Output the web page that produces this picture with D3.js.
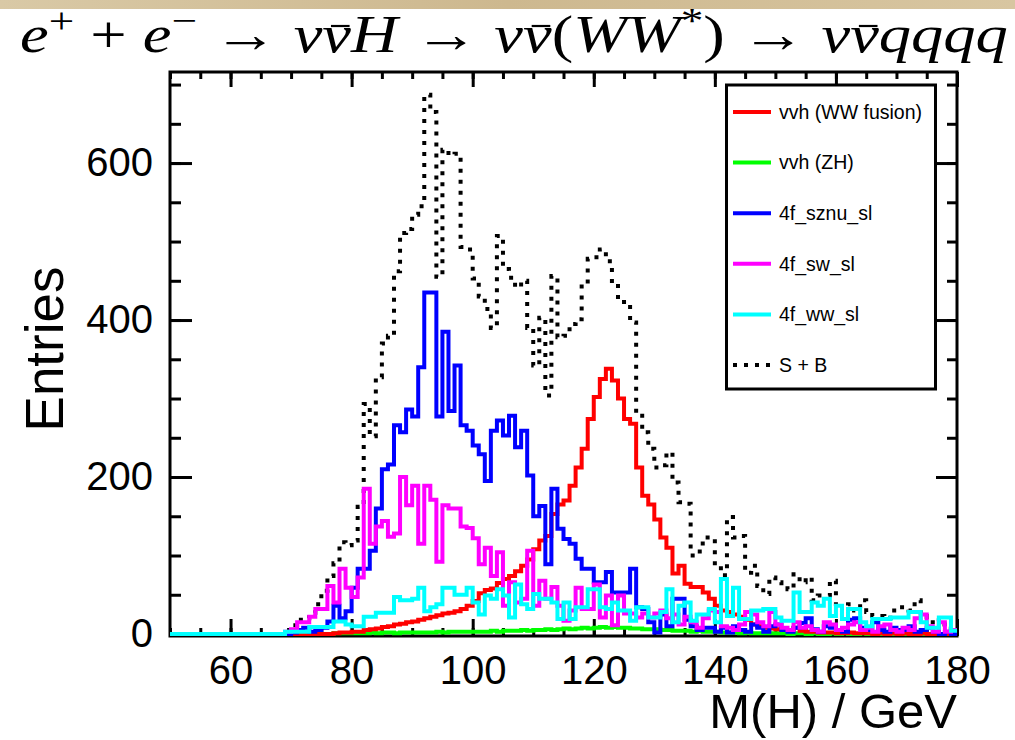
<!DOCTYPE html>
<html>
<head>
<meta charset="utf-8">
<script src="https://cdn.jsdelivr.net/npm/d3@7"></script>
<style>
  body { margin: 0; background: #fff; }
  svg { display: block; }
</style>
</head>
<body>
<div id="chart"></div>
<script>
// 1 GeV bins, first bin starts at 50 GeV (130 bins up to 180)
const binStart = 50;
const binEnd = 180;

const wwFusion = [
  0,0,0,0,0,0,0,0,0,0,
  0,0,0,0,0,0,0,0,0,0,
  0,0,0,0,0,0,0,1,2,2,
  3,3,5,6,7,9,10,12,13,15,
  16,18,20,22,24,26,27,29,32,36,
  42,52,56,58,65,70,74,80,87,95,
  108,119,125,153,165,170,189,212,236,274,
  302,325,338,323,300,274,268,212,176,165,
  146,123,110,77,87,64,60,60,53,45,
  36,30,28,25,22,18,12,10,8,7,
  6,5,5,8,4,3,3,2,2,2,
  1,1,2,1,1,1,0,1,0,1,
  0,1,0,0,1,0,0,0,0,0
];
const zh = [
  0,0,0,0,0,0,0,0,0,0,
  0,0,0,0,0,0,0,0,0,0,
  0,0,0,0,0,0,0,1,1,1,
  1,1,1,2,1,2,2,1,2,2,
  2,2,2,2,3,2,3,3,3,3,
  3,3,3,4,3,4,4,4,5,4,
  5,5,6,5,6,7,6,7,8,7,
  8,9,8,9,8,8,7,7,6,6,
  6,5,5,4,4,4,3,4,3,3,
  3,2,2,2,1,2,1,1,1,1,
  1,1,0,1,1,0,1,0,0,1,
  0,1,0,0,1,0,0,0,1,0,
  0,0,1,0,0,0,0,0,0,0
];
const sznu = [
  0,0,0,0,0,0,0,0,0,0,
  0,0,0,0,0,0,0,0,0,0,
  2,5,8,3,5,8,16,36,20,29,
  59,83,83,106,160,210,216,266,257,286,
  277,340,435,435,277,385,284,342,266,259,
  240,229,195,259,272,253,278,238,259,202,
  150,163,89,185,134,121,115,96,83,83,
  66,66,79,53,53,53,83,34,32,15,
  2,25,10,45,45,18,10,5,8,8,
  3,8,2,10,5,3,12,8,3,10,
  12,5,3,8,14,20,6,3,10,8,
  5,3,18,20,8,5,15,5,3,8,
  5,5,10,3,5,8,3,0,3,0
];
const sw = [
  0,0,0,0,0,0,0,0,0,0,
  0,0,0,0,0,0,0,0,0,3,
  6,15,15,22,32,32,61,40,83,59,
  47,72,185,115,137,144,124,128,200,164,
  189,115,189,171,92,164,160,160,137,135,
  122,89,110,74,104,36,66,40,45,106,
  36,68,45,60,36,17,30,59,32,32,
  63,21,49,11,49,26,26,21,26,21,
  26,30,20,25,12,22,15,8,20,30,
  28,10,8,5,12,28,25,15,10,28,
  12,8,5,15,8,10,5,3,15,12,
  5,8,12,15,5,8,3,10,12,5,
  3,8,5,20,25,10,3,15,3,5
];
const ww = [
  0,0,0,0,0,0,0,0,0,0,
  0,0,0,0,0,0,0,0,0,3,
  3,3,3,9,9,9,9,16,16,12,
  10,10,22,22,27,27,27,47,43,43,
  45,59,29,34,38,59,59,50,50,59,
  40,25,49,45,57,49,21,63,38,32,
  51,45,45,40,19,40,19,34,34,57,
  57,34,32,40,30,30,17,34,34,21,
  21,28,57,15,36,40,17,25,25,32,
  15,70,23,59,19,19,30,30,32,32,
  21,17,17,53,28,28,40,36,45,23,
  36,19,32,32,15,10,19,19,19,21,
  21,21,28,28,15,8,8,21,21,4
];
const sPlusB = [
  0,0,0,0,0,0,0,0,0,0,
  0,0,0,0,0,0,0,0,0,5,
  11,18,20,27,38,55,74,90,117,113,
  119,162,293,252,327,370,380,462,511,516,
  534,545,687,665,455,617,610,612,493,490,
  453,430,414,390,507,465,454,442,450,390,
  342,403,304,456,378,380,395,401,446,478,
  480,490,475,446,423,423,397,278,257,236,
  212,215,231,193,168,166,100,105,123,123,
  87,75,149,123,125,78,87,61,51,72,
  66,62,57,76,66,72,43,49,49,68,
  32,34,38,30,43,28,23,23,20,30,
  34,34,30,43,23,15,20,12,6,8
];

const legendLabels = ["vvh (WW fusion)", "vvh (ZH)", "4f_sznu_sl", "4f_sw_sl", "4f_ww_sl", "S + B"];
const xTickLabels = [60, 80, 100, 120, 140, 160, 180];
const yTickLabels = [0, 200, 400, 600];

const width = 1015;
const height = 740;
const sans = "'Liberation Sans', Arial, sans-serif";

const svg = d3.select("#chart").append("svg")
    .attr("width", width)
    .attr("height", height);

// parchment strip along the top edge
const grad = svg.append("defs").append("linearGradient")
    .attr("id", "parchment")
    .attr("x1", "0").attr("x2", "1").attr("y1", "0").attr("y2", "0");
grad.append("stop").attr("offset", "0").attr("stop-color", "#d9c9a6");
grad.append("stop").attr("offset", "0.5").attr("stop-color", "#cdb88f");
grad.append("stop").attr("offset", "1").attr("stop-color", "#d8c6a1");
svg.append("rect")
    .attr("x", 0).attr("y", 0)
    .attr("width", width).attr("height", 9)
    .attr("fill", "url(#parchment)");

const x = d3.scaleLinear().domain([binStart, binEnd]).range([170, 957]);
const y = d3.scaleLinear().domain([0, 716]).range([634, 72]);

// frame
svg.append("rect")
    .attr("x", 170).attr("y", 72)
    .attr("width", 787).attr("height", 564)
    .attr("fill", "none")
    .attr("stroke", "#000")
    .attr("stroke-width", 3);

function styleAxis(g) {
    g.select(".domain").remove();
    g.selectAll(".tick line").attr("stroke", "#000").attr("stroke-width", 3);
    g.selectAll(".tick text")
        .attr("fill", "#000")
        .style("font-family", sans)
        .style("font-size", "40px");
}

const minorX = d3.range(50, 181, 5);
const minorY = d3.range(0, 716, 50);

svg.append("g").attr("transform", "translate(0,636)")
    .call(d3.axisBottom(x).tickValues(minorX).tickSize(-8).tickFormat(""))
    .call(styleAxis);
svg.append("g").attr("transform", "translate(0,636)")
    .call(d3.axisBottom(x).tickValues(xTickLabels).tickSize(-17).tickPadding(20))
    .call(styleAxis);
svg.append("g").attr("transform", "translate(0,72)")
    .call(d3.axisTop(x).tickValues(minorX).tickSize(-7).tickFormat(""))
    .call(styleAxis);
svg.append("g").attr("transform", "translate(0,72)")
    .call(d3.axisTop(x).tickValues(xTickLabels).tickSize(-15).tickFormat(""))
    .call(styleAxis);

svg.append("g").attr("transform", "translate(170,0)")
    .call(d3.axisLeft(y).tickValues(minorY).tickSize(-11).tickFormat(""))
    .call(styleAxis);
svg.append("g").attr("transform", "translate(170,0)")
    .call(d3.axisLeft(y).tickValues(yTickLabels).tickSize(-22).tickPadding(17))
    .call(styleAxis);
svg.append("g").attr("transform", "translate(957,0)")
    .call(d3.axisRight(y).tickValues(minorY).tickSize(-10).tickFormat(""))
    .call(styleAxis);
svg.append("g").attr("transform", "translate(957,0)")
    .call(d3.axisRight(y).tickValues(yTickLabels).tickSize(-21).tickFormat(""))
    .call(styleAxis);

// histograms, S+B first so the coloured lines sit on top of it
const series = [
    {values: sPlusB, color: "#000", dash: "4,7"},
    {values: zh, color: "#00ff00"},
    {values: wwFusion, color: "#ff0000"},
    {values: sznu, color: "#0000ff"},
    {values: sw, color: "#ff00ff"},
    {values: ww, color: "#00ffff"}
];

const step = d3.line()
    .x(d => x(d[0]))
    .y(d => y(d[1]))
    .curve(d3.curveStepAfter);

series.forEach(s => {
    const pts = s.values.map((v, i) => [binStart + i, v]);
    pts.push([binEnd, s.values[s.values.length - 1]]);
    svg.append("path")
        .datum(pts)
        .attr("d", step)
        .attr("fill", "none")
        .attr("stroke", s.color)
        .attr("stroke-width", 4)
        .attr("stroke-dasharray", s.dash || null);
});

// legend
const legendColors = ["#ff0000", "#00ff00", "#0000ff", "#ff00ff", "#00ffff", "#000"];
const legend = svg.append("g");
legend.append("rect")
    .attr("x", 726.5).attr("y", 85)
    .attr("width", 209).attr("height", 304)
    .attr("fill", "#fff")
    .attr("stroke", "#000")
    .attr("stroke-width", 3);

const rows = legend.selectAll("g.row")
    .data(legendLabels)
    .join("g")
    .attr("class", "row")
    .attr("transform", (d, i) => `translate(0,${112 + i * 50.6})`);

rows.append("line")
    .attr("x1", 733).attr("x2", 771)
    .attr("stroke", (d, i) => legendColors[i])
    .attr("stroke-width", 4)
    .attr("stroke-dasharray", (d, i) => i === 5 ? "4,7" : null);

rows.append("text")
    .attr("x", 779)
    .attr("dy", "0.35em")
    .style("font-family", sans)
    .style("font-size", "19.5px")
    .text(d => d);

// axis titles
svg.append("text")
    .attr("transform", "translate(63,349) rotate(-90)")
    .attr("text-anchor", "middle")
    .style("font-family", sans)
    .style("font-size", "53px")
    .text("Entries");

svg.append("text")
    .attr("x", 957).attr("y", 728)
    .attr("text-anchor", "end")
    .style("font-family", sans)
    .style("font-size", "49px")
    .text("M(H) / GeV");

// title: e+ + e- -> nu nubar H -> nu nubar (WW*) -> nu nubar qqqq
const titleParts = [
    {t: "e", it: true},
    {t: "+", sup: true},
    {t: " + "},
    {t: "e", it: true},
    {t: "\u2212", sup: true},
    {t: " \u2192 "},
    {t: "\u03bd\u03bd", it: true, bar: 1},
    {t: "H", it: true},
    {t: " \u2192 "},
    {t: "\u03bd\u03bd", it: true, bar: 1},
    {t: "("},
    {t: "WW", it: true},
    {t: "*", sup: true},
    {t: ")"},
    {t: " \u2192 "},
    {t: "\u03bd\u03bd", it: true, bar: 1},
    {t: "qqqq", it: true}
];

const titleSize = 52;
const titleG = svg.append("g");
const title = titleG.append("text")
    .attr("x", 20).attr("y", 52)
    .style("font-family", "'Liberation Serif', 'DejaVu Serif', serif")
    .style("font-size", titleSize + "px")
    .style("white-space", "pre");

let raised = false;
let charIndex = 0;
const barChars = [];
titleParts.forEach(p => {
    const ts = title.append("tspan").text(p.t);
    if (p.it) ts.style("font-style", "italic");
    if (p.sup) {
        ts.style("font-size", (titleSize * 0.7) + "px").attr("dy", -19);
        raised = true;
    } else if (raised) {
        ts.attr("dy", 19);
        raised = false;
    }
    if (p.bar !== undefined) barChars.push(charIndex + p.bar);
    charIndex += p.t.length;
});

const tNode = title.node();
barChars.forEach(ci => {
    const ext = tNode.getExtentOfChar(ci);
    titleG.append("line")
        .attr("x1", ext.x + ext.width * 0.3).attr("x2", ext.x + ext.width * 0.95)
        .attr("y1", 26).attr("y2", 26)
        .attr("stroke", "#000")
        .attr("stroke-width", 2.2);
});

const tw = title.node().getBBox().width;
const sx = 988 / tw;
titleG.attr("transform", `translate(20,0) scale(${sx},1) translate(-20,0)`);
</script>
</body>
</html>
